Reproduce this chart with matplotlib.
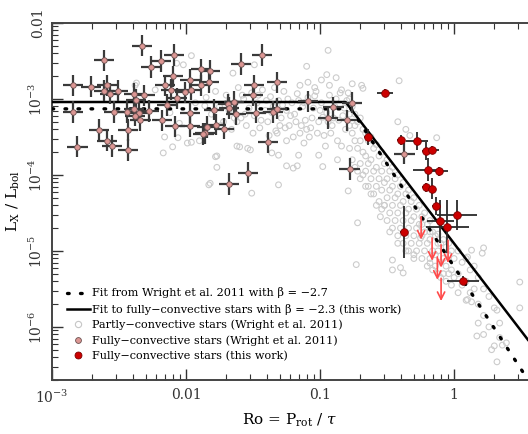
import numpy as np
import matplotlib.pyplot as plt
from matplotlib.ticker import FixedLocator, NullFormatter
from matplotlib.lines import Line2D

plt.rcParams['font.family'] = 'DejaVu Serif'
plt.rcParams['mathtext.fontset'] = 'dejavuserif'

# all values are log10(Ro) and log10(Lx/Lbol)

# partly-convective stars (Wright et al. 2011), sparse part at low Ro
grey_s_ro = [-1.96, -2.02, -2.07, -2.37, -2.16, -2.10, -2.17, -1.96, -1.78, -1.77,
             -1.82, -1.60, -1.54, -1.51, -1.31, -1.31, -1.25, -1.17, -1.16, -1.99,
             -2.06, -1.93, -1.86, -2.05, -1.83, -2.12, -2.23, -2.38, -1.52, -1.36,
             -1.01, -0.98, -0.87, -0.79, -1.20, -1.77, -0.94, -1.10, -0.95, -0.76,
             -1.65, -1.49, -1.90, -1.62]
grey_s_lx = [-2.43, -2.55, -2.53, -2.79, -3.50, -3.63, -3.71, -3.57, -3.76, -3.90,
             -4.11, -3.63, -3.65, -4.24, -4.13, -3.74, -3.88, -3.88, -3.74, -3.58,
             -3.51, -3.05, -3.09, -3.32, -4.13, -3.18, -2.88, -2.82, -3.67, -3.71,
             -3.74, -3.89, -3.80, -4.21, -3.91, -3.75, -2.36, -2.57, -2.68, -2.80,
             -2.66, -2.55, -3.55, -3.62]

# dense saturated band
grey_d_ro = [-1.85, -1.81, -1.78, -1.75, -1.72, -1.70, -1.68, -1.66, -1.63, -1.61,
             -1.59, -1.57, -1.55, -1.53, -1.51, -1.49, -1.47, -1.45, -1.43, -1.41,
             -1.39, -1.37, -1.35, -1.33, -1.31, -1.29, -1.27, -1.25, -1.23, -1.21,
             -1.19, -1.17, -1.15, -1.13, -1.11, -1.09, -1.07, -1.05, -1.03, -1.01,
             -0.99, -0.97, -0.95, -0.93, -0.91, -0.89, -0.87, -0.85, -0.83, -0.81,
             -1.36, -1.30, -1.24, -1.18, -1.12, -1.06, -1.00, -0.94, -0.88, -0.82,
             -1.34, -1.28, -1.22, -1.16, -1.10, -1.04, -0.98, -0.92, -0.86, -0.80,
             -1.62, -1.56, -1.50, -1.44, -1.38, -1.32, -1.26, -1.20, -1.14, -1.08,
             -1.02, -0.96, -0.90, -0.84, -1.74, -1.69, -1.64, -1.58, -1.46, -1.40,
             -1.15, -1.09, -1.04, -0.99, -0.93, -0.88, -0.84, -0.79, -1.12, -1.25]
grey_d_lx = [-2.98, -3.20, -2.90, -3.10, -3.30, -2.95, -3.15, -3.40, -3.05, -2.85,
             -3.25, -3.00, -3.35, -3.12, -2.92, -3.22, -3.05, -3.38, -2.88, -3.15,
             -3.30, -2.97, -3.10, -3.42, -3.02, -3.25, -2.90, -3.15, -3.35, -3.05,
             -3.20, -2.93, -3.45, -3.10, -3.28, -2.98, -3.38, -3.12, -2.90, -3.30,
             -3.05, -3.48, -3.18, -2.95, -3.35, -3.10, -3.55, -2.92, -3.22, -3.40,
             -3.18, -3.35, -3.00, -3.30, -3.05, -3.25, -3.15, -3.30, -3.00, -3.12,
             -2.85, -3.08, -3.22, -3.02, -3.40, -2.96, -3.24, -3.45, -3.28, -3.02,
             -3.30, -3.20, -3.45, -3.28, -3.48, -3.45, -3.38, -3.50, -3.35, -3.50,
             -3.45, -3.62, -3.25, -3.62, -3.35, -3.05, -3.25, -2.95, -2.95, -3.02,
             -2.82, -2.78, -2.85, -2.75, -2.82, -2.72, -2.88, -2.92, -3.58, -3.55]

# declining branch, grouped by Ro column
grey_c_ro = [-0.78, -0.76, -0.74, -0.72, -0.70, -0.68, -0.66, -0.64, -0.62, -0.60,
             -0.58, -0.56, -0.54, -0.52, -0.50, -0.48, -0.46, -0.44, -0.42, -0.40,
             -0.38, -0.36, -0.34, -0.32, -0.30, -0.28, -0.26, -0.24, -0.22, -0.20,
             -0.18, -0.16, -0.14, -0.12, -0.10, -0.08, -0.06, -0.04, -0.02, 0.00,
             0.03, 0.06, 0.09, 0.12, 0.15, 0.18, 0.22, 0.26, 0.30, 0.34]
grey_c_lx = [[-3.00, -3.35, -3.65, -3.20], [-3.10, -3.45, -3.80], [-3.20, -3.55, -3.90, -3.35],
             [-3.30, -3.65, -3.95], [-3.25, -3.55, -3.85, -4.05], [-3.40, -3.70, -4.00],
             [-3.45, -3.75, -3.95, -4.15], [-3.55, -3.85, -4.15], [-3.50, -3.80, -4.05, -4.25],
             [-3.65, -3.95, -4.25], [-3.60, -3.90, -4.15, -4.40], [-3.75, -4.05, -4.35],
             [-3.70, -3.95, -4.20, -4.45], [-3.85, -4.10, -4.40], [-3.80, -4.05, -4.30, -4.60],
             [-3.95, -4.20, -4.50], [-3.90, -4.15, -4.40, -4.70], [-4.05, -4.30, -4.60],
             [-4.00, -4.25, -4.50, -4.80], [-4.15, -4.40, -4.70], [-4.10, -4.35, -4.60, -4.90],
             [-4.25, -4.50, -4.80], [-4.20, -4.45, -4.70, -5.00], [-4.35, -4.60, -4.90],
             [-4.30, -4.55, -4.80, -5.05], [-4.45, -4.70, -5.00], [-4.40, -4.65, -4.90],
             [-4.55, -4.80, -5.10, -4.65], [-4.50, -4.75, -5.00], [-4.65, -4.90, -5.20],
             [-4.60, -4.85, -5.10, -4.75], [-4.75, -5.00, -5.25], [-4.80, -5.05, -5.20],
             [-4.78, -5.00, -5.30, -4.90], [-4.90, -5.15, -5.35], [-4.85, -5.10, -5.30],
             [-4.95, -5.20, -5.40], [-4.90, -5.05, -5.30], [-5.00, -5.25, -5.45],
             [-5.10, -5.35], [-5.00, -5.30, -5.55], [-5.15, -5.45], [-5.10, -5.40, -5.65],
             [-5.25, -5.55], [-5.20, -5.50], [-5.35, -5.70], [-5.50, -5.85, -6.10],
             [-5.60, -6.00], [-5.75, -6.25], [-5.95]]

# scattered outliers
grey_o_ro = [-0.42, -0.36, -0.33, -0.13, -0.41, -0.68, -0.69, 0.49, 0.49, 0.17,
             0.28, 0.32, 0.39, 0.10, 0.22, 0.13, -0.46, -0.40, -0.73, -0.72,
             0.21, 0.10, 0.32, 0.18, 0.34, 0.36, 0.13, -0.18, -0.25, -0.46,
             -0.38, -0.55, -0.48, -0.42, -0.36, -0.30, -0.52]
grey_o_lx = [-3.30, -3.40, -3.48, -3.51, -2.76, -2.86, -2.82, -5.41, -5.75, -6.12,
             -6.30, -6.46, -6.21, -5.64, -4.96, -4.99, -5.12, -5.22, -5.18, -4.63,
             -5.03, -5.08, -5.78, -5.95, -6.14, -6.24, -5.67, -5.16, -4.83, -5.25,
             -5.29, -4.55, -4.75, -4.90, -5.00, -5.10, -4.40]

# fully-convective stars (Wright et al. 2011)
pink_ro = [-2.33, -2.61, -2.19, -2.09, -2.26, -2.84, -2.71, -2.59, -2.61, -2.57,
           -2.51, -2.39, -2.31, -2.16, -2.10, -2.11, -2.07, -2.01, -1.97, -1.96,
           -1.89, -1.89, -1.83, -2.84, -2.54, -2.44, -2.39, -2.35, -2.28, -2.34,
           -2.38, -2.14, -2.18, -2.08, -1.97, -1.97, -1.84, -1.86, -2.65, -2.43,
           -2.59, -2.55, -2.43, -2.81, -2.37, -1.43, -1.59, -1.82, -1.49, -1.32,
           -1.50, -1.69, -1.64, -1.79, -1.68, -1.63, -1.48, -1.35, -1.32, -1.09,
           -0.90, -0.94, -0.80, -0.76, -1.78, -1.72, -1.87, -1.39, -1.54, -1.68,
           -0.78, -0.37]
pink_lx = [-2.30, -2.49, -2.50, -2.42, -2.58, -2.82, -2.84, -2.82, -2.89, -2.93,
           -2.89, -2.93, -2.95, -2.82, -2.70, -2.88, -2.99, -2.91, -2.75, -2.88,
           -2.61, -2.82, -2.78, -3.17, -3.17, -3.17, -3.13, -3.18, -3.16, -3.28,
           -3.22, -3.08, -3.28, -3.36, -3.18, -3.36, -3.37, -3.45, -3.41, -3.41,
           -3.55, -3.62, -3.67, -3.63, -3.01, -2.42, -2.54, -2.63, -2.82, -2.78,
           -2.95, -3.07, -3.04, -3.14, -3.12, -3.20, -3.18, -3.17, -3.13, -3.03,
           -3.11, -3.25, -3.28, -3.05, -3.34, -3.39, -3.46, -3.57, -3.97, -4.12,
           -3.92, -3.72]

# fully-convective stars (this work), errors in dex
red_ro = [-0.515, -0.642, -0.396, -0.276, -0.209, -0.164, -0.194, -0.112,
          -0.209, -0.164, -0.134, 0.022, -0.104, -0.052, -0.373, 0.067]
red_lx = [-2.92, -3.50, -3.54, -3.55, -3.68, -3.67, -3.93, -3.95,
          -4.16, -4.18, -4.41, -4.53, -4.61, -4.68, -4.75, -5.39]
red_xerr = [0.06, 0.03, 0.03, 0.08, 0.03, 0.05, 0.11, 0.07,
            0.03, 0.03, 0.03, 0.15, 0.10, 0.16, 0.03, 0.12]
red_yerr = [0.05, 0.10, 0.06, 0.12, 0.12, 0.05, 0.15, 0.06,
            0.06, 0.14, 0.12, 0.20, 0.28, 0.35, 0.34, 0.06]

# upper limits (this work)
lim_ro = [-0.246, -0.164, -0.097, -0.045, -0.125, -0.097]
lim_lx = [-4.55, -4.83, -4.92, -4.86, -5.08, -5.36]

# broken power-law fits: saturation level, Ro_sat, beta
wright_sat, wright_rosat, wright_beta = -3.13, 0.17, -2.7
fit_sat, fit_rosat, fit_beta = -3.04, 0.155, -2.3

xmin, xmax = 1e-3, 3.56
ymin, ymax = 2.0e-7, 1e-2


def asym(logv, d):
    v = 10.0 ** np.asarray(logv)
    d = np.asarray(d)
    return [v - 10.0 ** (np.asarray(logv) - d), 10.0 ** (np.asarray(logv) + d) - v]


def fit_line(sat, rosat, beta):
    xs = np.array([xmin, rosat, xmax])
    ys = np.where(xs <= rosat, 10 ** sat, 10 ** sat * (xs / rosat) ** beta)
    return xs, ys


fig = plt.figure(figsize=(5.28, 4.34), dpi=100)
ax = fig.add_axes([52 / 528, 54 / 434, 476 / 528, 357 / 434])

grey_ro = grey_s_ro + grey_d_ro + grey_o_ro
grey_lx = grey_s_lx + grey_d_lx + grey_o_lx
for r, col in zip(grey_c_ro, grey_c_lx):
    grey_ro += [r] * len(col)
    grey_lx += col

ax.scatter(10 ** np.array(grey_ro), 10 ** np.array(grey_lx), s=17,
           facecolors='none', edgecolors='#cccccc', linewidths=0.8, zorder=1)

# fits
wx, wy = fit_line(wright_sat, wright_rosat, wright_beta)
ax.plot(wx, wy, color='black', lw=2.4, ls=(0, (0.5, 3.4)), dash_capstyle='round', zorder=3)
fx, fy = fit_line(fit_sat, fit_rosat, fit_beta)
ax.plot(fx, fy, color='black', lw=1.8, zorder=3)

# Wright fully-convective with error crosses
pk_ro = np.array(pink_ro)
pk_lx = np.array(pink_lx)
ax.errorbar(10 ** pk_ro, 10 ** pk_lx,
            xerr=asym(pk_ro, np.full(len(pk_ro), 0.075)),
            yerr=asym(pk_lx, np.full(len(pk_lx), 0.14)),
            fmt='o', ms=4.0, mfc='#dc9693', mec='#6a5050', mew=0.6,
            ecolor='#3a3a3a', elinewidth=1.6, capsize=0, zorder=4)

# this work
ax.errorbar(10 ** np.array(red_ro), 10 ** np.array(red_lx),
            xerr=asym(red_ro, red_xerr), yerr=asym(red_lx, red_yerr),
            fmt='o', ms=5.5, mfc='#cc0000', mec='#7a0000', mew=0.6,
            ecolor='#2a2a2a', elinewidth=1.3, capsize=0, zorder=5)

for r, l in zip(lim_ro, lim_lx):
    ax.annotate('', xy=(10 ** r, 10 ** (l - 0.3)), xytext=(10 ** r, 10 ** l),
                arrowprops=dict(arrowstyle='->', color='#ff4a4a', lw=1.2,
                                mutation_scale=13, shrinkA=0, shrinkB=0),
                zorder=6)

ax.set_xscale('log')
ax.set_yscale('log')
ax.set_xlim(xmin, xmax)
ax.set_ylim(ymin, ymax)

ax.xaxis.set_major_locator(FixedLocator([1e-3, 1e-2, 1e-1, 1]))
ax.set_xticklabels(['10$^{-3}$', '0.01', '0.1', '1'], fontsize=10)
ax.yaxis.set_major_locator(FixedLocator([1e-6, 1e-5, 1e-4, 1e-3, 1e-2]))
ax.set_yticklabels(['10$^{-6}$', '10$^{-5}$', '10$^{-4}$', '10$^{-3}$', '0.01'],
                   fontsize=10, rotation=90, va='center')
ax.xaxis.set_minor_formatter(NullFormatter())
ax.yaxis.set_minor_formatter(NullFormatter())

ax.tick_params(which='both', direction='in', top=True, right=False, colors='#333333')
ax.tick_params(which='major', length=8, width=1.0)
ax.tick_params(which='minor', length=4, width=0.8)
ax.tick_params(axis='x', which='major', pad=6)
ax.tick_params(axis='y', which='major', pad=5)
for side in ['left', 'bottom', 'top']:
    ax.spines[side].set_color('#444444')
    ax.spines[side].set_linewidth(1.4)
ax.spines['right'].set_visible(False)

ax.set_xlabel(r'Ro = P$_\mathregular{rot}$ / $\tau$', fontsize=11, labelpad=4)
ax.set_ylabel(r'L$_\mathregular{X}$ / L$_\mathregular{bol}$', fontsize=11, labelpad=4)

handles = [
    Line2D([], [], color='black', lw=2.4, ls=(0, (0.5, 3.4)), dash_capstyle='round'),
    Line2D([], [], color='black', lw=1.8),
    Line2D([], [], ls='none', marker='o', ms=4.5, mfc='none', mec='#c6c6c6', mew=0.8),
    Line2D([], [], ls='none', marker='o', ms=4.2, mfc='#dc9693', mec='#6a5050', mew=0.6),
    Line2D([], [], ls='none', marker='o', ms=5.0, mfc='#cc0000', mec='#7a0000', mew=0.6),
]
labels = [
    'Fit from Wright et al. 2011 with \u03b2 = \u22122.7',
    'Fit to fully\u2212convective stars with \u03b2 = \u22122.3 (this work)',
    'Partly\u2212convective stars (Wright et al. 2011)',
    'Fully\u2212convective stars (Wright et al. 2011)',
    'Fully\u2212convective stars (this work)',
]
ax.legend(handles, labels, loc='lower left', bbox_to_anchor=(0.015, 0.03),
          frameon=False, fontsize=8.1, handlelength=2.0, handletextpad=0.2,
          labelspacing=0.45, borderpad=0.2)

fig.savefig('out.png', dpi=100)
